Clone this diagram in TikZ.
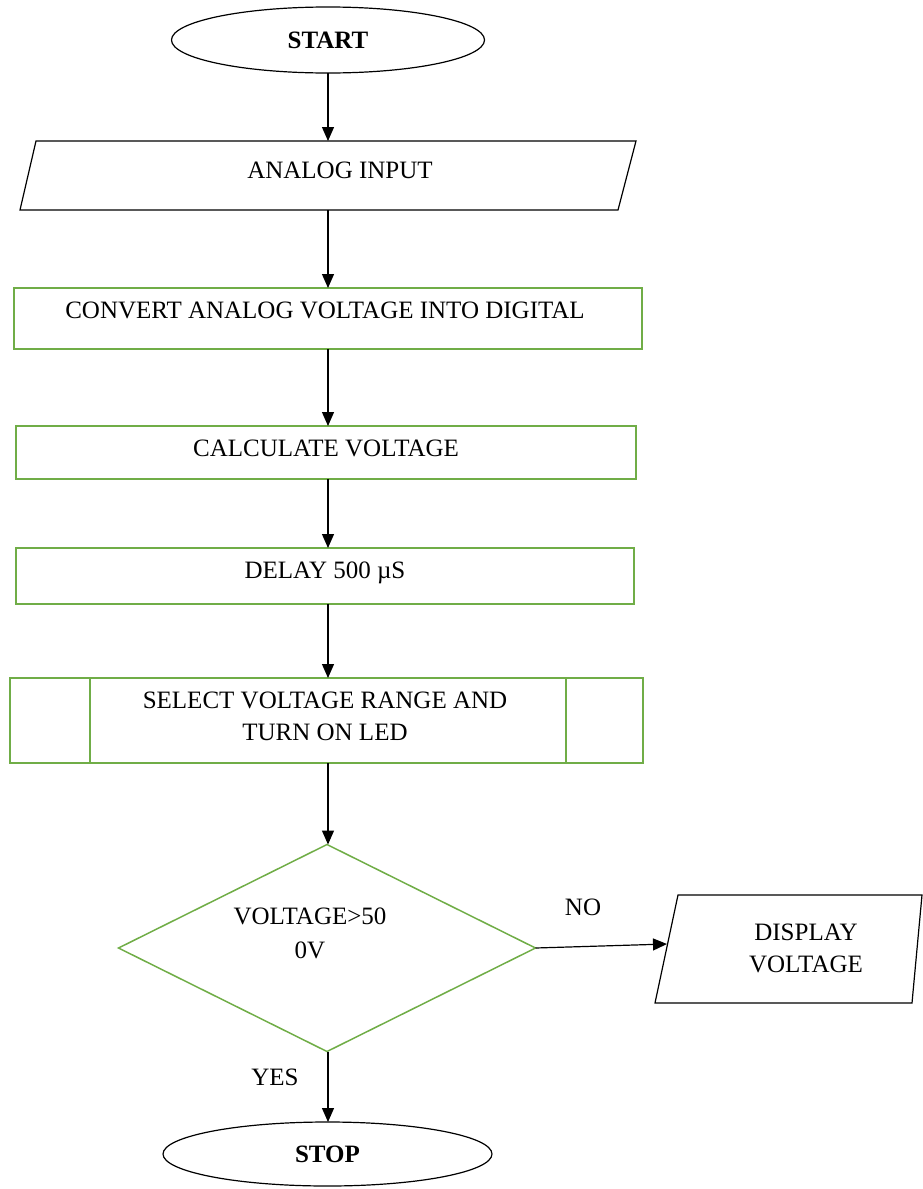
\documentclass[tikz,border=0pt]{standalone}
\usepackage{fontspec}
\setmainfont{Liberation Serif}
\usetikzlibrary{shapes.geometric,arrows.meta}
\definecolor{grn}{HTML}{70AD47}
\begin{document}
\begin{tikzpicture}[x=1pt,y=-1pt,
  every node/.style={font=\fontsize{25}{32}\selectfont, inner sep=0pt, outer sep=0pt},
  gbox/.style={draw=grn, line width=1.5pt, rectangle},
  term/.style={draw=black, ellipse, line width=1.2pt},
  io/.style={line width=1.2pt},
  arr/.style={-{Triangle[length=14pt,width=12pt]}, line width=1.2pt},
  lbl/.style={align=center}]
\useasboundingbox (0,0) rectangle (922,1189);

% START
\node[term, minimum width=313, minimum height=66] (start) at (328,40) {\bfseries START};

% ANALOG INPUT (parallelogram)
\node[minimum width=616, minimum height=69] (in) at (328,175.5) {};
\draw[io] ([xshift=16pt]in.north west) -- (in.north east) -- ([xshift=-18pt]in.south east) -- (in.south west) -- cycle;
\node[lbl] (inT) at (340,170) {ANALOG INPUT};

% CONVERT
\node[gbox, minimum width=628, minimum height=61] (conv) at (328,318.5) {};
\node[lbl] (convT) at (325,310) {CONVERT ANALOG VOLTAGE INTO DIGITAL};

% CALCULATE
\node[gbox, minimum width=620, minimum height=53] (calc) at (326,452.5) {};
\node[lbl] (calcT) at (326,448) {CALCULATE VOLTAGE};

% DELAY
\node[gbox, minimum width=618, minimum height=56] (dly) at (325,576) {};
\node[lbl] (dlyT) at (325,573) {DELAY 500 µS};

% SELECT (predefined process)
\node[gbox, minimum width=633, minimum height=85] (sel) at (326.5,720.5) {};
\draw[grn, line width=1.5pt] (sel.north west -| 90,0) -- (sel.south west -| 90,0);
\draw[grn, line width=1.5pt] (sel.north west -| 566,0) -- (sel.south west -| 566,0);
\node[lbl] (selT) at (325,716) {SELECT VOLTAGE RANGE AND\\TURN ON LED};

% DECISION
\node[diamond, draw=grn, line width=1.5pt, minimum width=417, minimum height=207] (dec) at (327,948) {};
\node[lbl, font=\fontsize{25}{34}\selectfont] (decT) at (310,933) {VOLTAGE>50\\0V};

% DISPLAY VOLTAGE (parallelogram)
\node[minimum width=267, minimum height=108] (disp) at (788.5,949) {};
\draw[io] ([xshift=23pt]disp.north west) -- (disp.north east) -- ([xshift=-10pt]disp.south east) -- (disp.south west) -- cycle;
\node[lbl] (dispT) at (806,948) {DISPLAY\\VOLTAGE};
\coordinate (dispL) at (667,944);

% STOP
\node[term, minimum width=329, minimum height=64] (stop) at (327.5,1154) {\bfseries STOP};

% labels
\node (no) at (583,907) {NO};
\node (yes) at (275,1077) {YES};

% connectors
\draw[arr] (start.south) -- (in.north);
\draw[arr] (in.south) -- (conv.north);
\draw[arr] (conv.south) -- (conv.south |- calc.north);
\draw[arr] (calc.south -| conv.south) -- (conv.south |- dly.north);
\draw[arr] (dly.south -| conv.south) -- (conv.south |- sel.north);
\draw[arr] (sel.south -| conv.south) -- (conv.south |- dec.north);
\draw[arr] (dec.east) -- (dispL);
\draw[arr] (dec.south -| conv.south) -- (conv.south |- stop.north);
\end{tikzpicture}
\end{document}
